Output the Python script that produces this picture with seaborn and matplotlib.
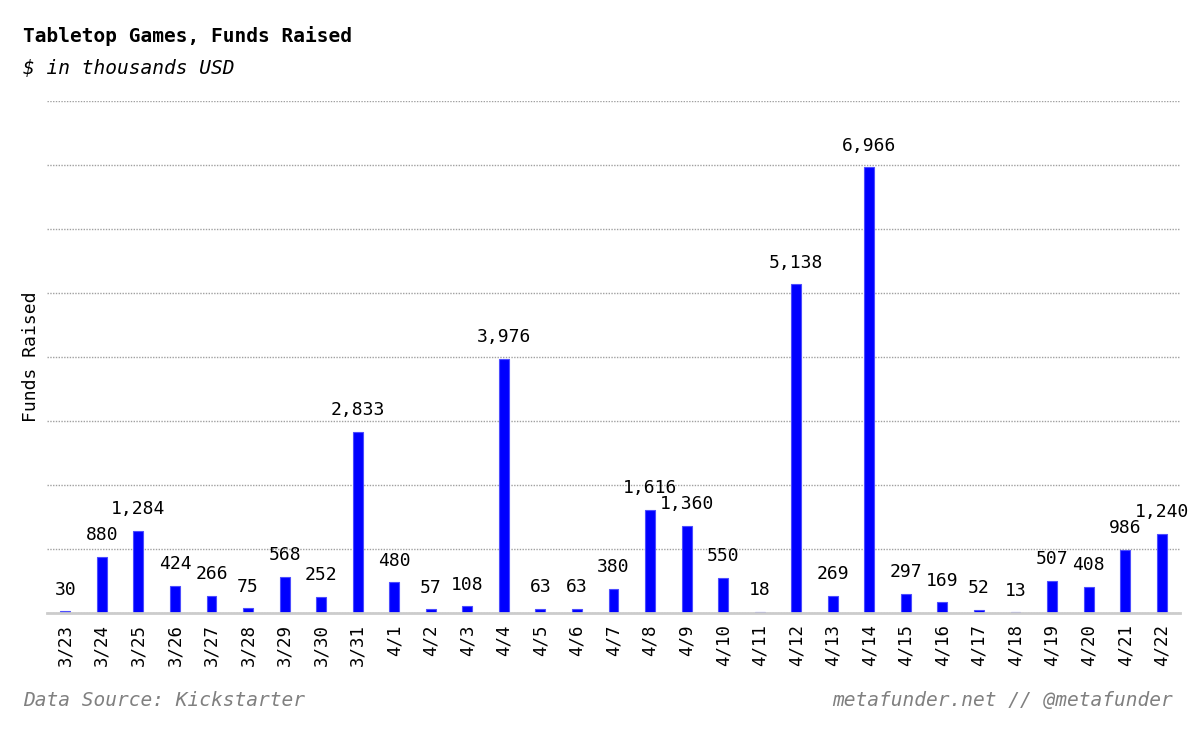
import matplotlib
matplotlib.use('Agg')
import matplotlib.pyplot as plt
import pandas as pd
import seaborn as sns
from matplotlib.ticker import FixedLocator, MultipleLocator

# data ($ in thousands)
dates = ['3/23', '3/24', '3/25', '3/26', '3/27', '3/28', '3/29', '3/30',
         '3/31', '4/1', '4/2', '4/3', '4/4', '4/5', '4/6', '4/7', '4/8',
         '4/9', '4/10', '4/11', '4/12', '4/13', '4/14', '4/15', '4/16',
         '4/17', '4/18', '4/19', '4/20', '4/21', '4/22']
funds = [30, 880, 1284, 424, 266, 75, 568, 252, 2833, 480, 57, 108, 3976,
         63, 63, 380, 1616, 1360, 550, 18, 5138, 269, 6966, 297, 169, 52,
         13, 507, 408, 986, 1240]

df = pd.DataFrame({'date': dates, 'funds': funds})

sns.set_style('white')
plt.rcParams['font.family'] = ['DejaVu Sans Mono', 'DejaVu Sans']
plt.rcParams['text.color'] = 'black'
plt.rcParams['axes.labelcolor'] = 'black'

fig = plt.figure(figsize=(12, 7.33), dpi=100)
ax = fig.add_axes([0.0392, 0.1637, 0.9441, 0.6985])

sns.barplot(data=df, x='date', y='funds', order=dates, color='#0000ff',
            width=0.27, edgecolor='#4d4dff', linewidth=0.8, saturation=1,
            ax=ax)

# value labels above bars
ax.bar_label(ax.containers[0], labels=[f'{v:,}' for v in funds],
             padding=9, fontsize=13, color='black')

# axes styling
ax.set_ylim(0, 8000)
ax.set_xlim(-0.5, len(dates) - 0.5)
ax.yaxis.set_major_locator(MultipleLocator(1000))
ax.set_yticklabels([])
ax.tick_params(axis='y', length=0)
ax.grid(axis='y', color='#a0a0a0', linestyle=(0, (1, 1)), linewidth=1)
ax.set_axisbelow(True)
for side in ['top', 'right', 'left']:
    ax.spines[side].set_visible(False)
ax.spines['bottom'].set_color('#cccccc')
ax.spines['bottom'].set_linewidth(2)

ax.set_xlabel('')
ax.tick_params(axis='x', which='major', length=0, labelsize=12.5,
               rotation=90, pad=8, labelcolor='black')
ax.xaxis.set_minor_locator(FixedLocator([i - 0.5 for i in range(len(dates) + 1)]))
ax.tick_params(axis='x', which='minor', length=7, width=1.5, color='#cccccc')

ax.set_ylabel('Funds Raised', fontsize=13)
ax.yaxis.set_label_coords(-0.0062, 0.5)

# titles and footers
fig.text(0.019, 1 - 42 / 733, 'Tabletop Games, Funds Raised',
         fontsize=14, fontweight='bold', va='baseline')
fig.text(0.019, 1 - 74 / 733, '$ in thousands USD',
         fontsize=14, style='italic', va='baseline')
fig.text(0.019, 1 - 706 / 733, 'Data Source: Kickstarter',
         fontsize=14, style='italic', color='#808080', va='baseline')
fig.text(1173 / 1200, 1 - 706 / 733, 'metafunder.net // @metafunder',
         fontsize=14, style='italic', color='#808080', va='baseline',
         ha='right')

fig.savefig('out.png', dpi=100, facecolor='white')
